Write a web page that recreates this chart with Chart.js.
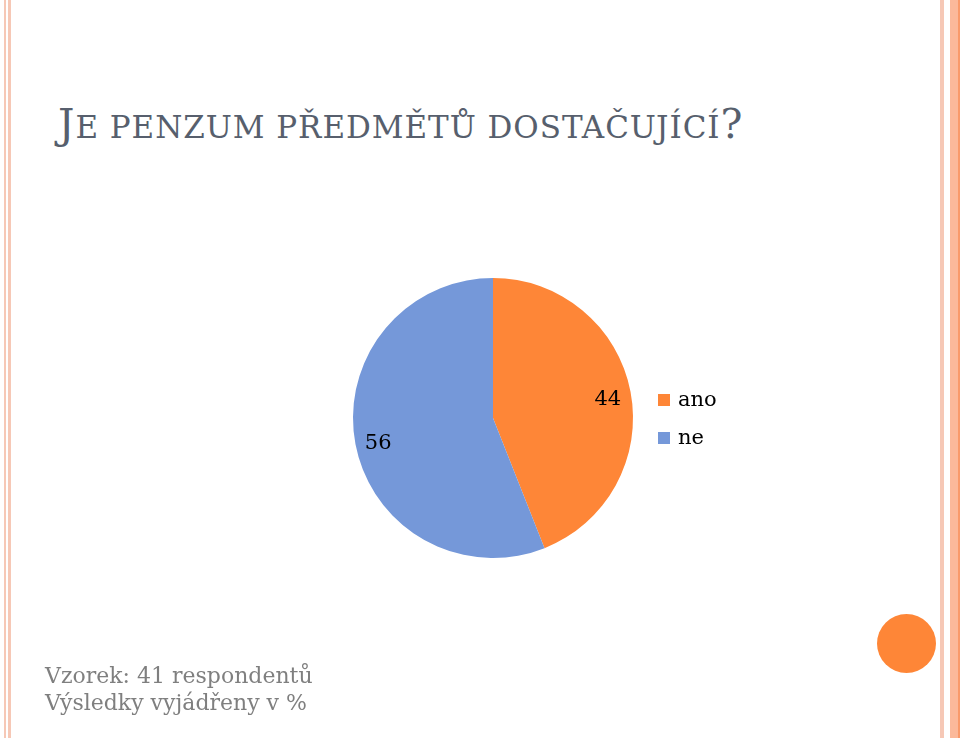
<!DOCTYPE html>
<html><head><meta charset="utf-8">
<script src="https://cdn.jsdelivr.net/npm/chart.js@4/dist/chart.umd.min.js"></script>
<style>
html,body{margin:0;padding:0;background:#fff;}
#wrap{position:relative;width:960px;height:738px;overflow:hidden;}
canvas#c{position:absolute;left:0;top:0;}
.vl{position:absolute;top:0;height:738px;}
#title{position:absolute;left:58px;top:99px;font-family:"DejaVu Serif",serif;font-size:41px;line-height:50px;color:#575F6D;white-space:nowrap;letter-spacing:0.95px;}
#title .s{font-size:31px;}
#foot{position:absolute;left:45px;top:662px;font-family:"DejaVu Serif",serif;font-size:22px;line-height:27px;color:#7f7f7f;white-space:nowrap;}
#dot{position:absolute;left:877px;top:614px;width:59px;height:59px;border-radius:50%;background:#FE8637;}
</style></head><body>
<div id="wrap">
<div class="vl" style="left:4px;width:2px;background:#F6C8B6"></div>
<div class="vl" style="left:8px;width:3px;background:#F6C8B6"></div>
<div class="vl" style="left:940px;width:4px;background:#F6C8B6"></div>
<div class="vl" style="left:950px;width:10px;background:#FBB99A"></div>
<div class="vl" style="left:958px;width:2px;background:#F99A6A"></div>
<div id="title">J<span class="s">E PENZUM PŘEDMĚTŮ DOSTAČUJÍCÍ</span>?</div>
<canvas id="c" width="960" height="738"></canvas>
<div id="foot">Vzorek: 41 respondentů<br>Výsledky vyjádřeny v %</div>
<div id="dot"></div>
</div>
<script>
const categories = ["ano", "ne"];
const values = [44, 56];
const colors = ["#FE8637", "#7598D9"];

const labelPlugin = {
  id: 'valLabels',
  afterDatasetsDraw(chart) {
    const ctx = chart.ctx;
    const meta = chart.getDatasetMeta(0);
    ctx.save();
    ctx.font = '21px "DejaVu Serif", serif';
    ctx.fillStyle = '#000';
    ctx.textAlign = 'center';
    ctx.textBaseline = 'alphabetic';
    meta.data.forEach((arc, i) => {
      const mid = (arc.startAngle + arc.endAngle) / 2;
      const r = arc.outerRadius * 0.835;
      ctx.fillText(String(chart.data.datasets[0].data[i]), arc.x + Math.cos(mid) * r, arc.y + Math.sin(mid) * r + 9);
    });
    // legend
    const lx = 658, ly0 = 400, gap = 38;
    ctx.textAlign = 'left';
    chart.data.labels.forEach((lab, i) => {
      const y = ly0 + i * gap;
      ctx.fillStyle = chart.data.datasets[0].backgroundColor[i];
      ctx.fillRect(lx, y - 6, 12, 12);
      ctx.fillStyle = '#000';
      ctx.fillText(lab, lx + 20, y + 6);
    });
    ctx.restore();
  }
};

new Chart(document.getElementById('c'), {
  type: 'pie',
  data: { labels: categories, datasets: [{ data: values, backgroundColor: colors, borderWidth: 0 }] },
  options: {
    responsive: false,
    animation: false,
    layout: { padding: { left: 353, right: 327, top: 278, bottom: 180 } },
    plugins: { legend: { display: false }, tooltip: { enabled: false } }
  },
  plugins: [labelPlugin]
});
</script>
</body></html>
